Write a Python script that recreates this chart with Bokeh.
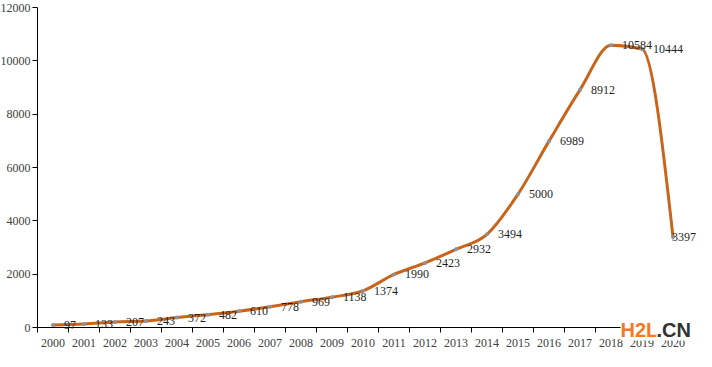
from bokeh.plotting import figure
from bokeh.models import (ColumnDataSource, FixedTicker, Range1d, LabelSet, Label)
from bokeh.embed import file_html
from bokeh.resources import INLINE

# ---- data ----
years = ["2000", "2001", "2002", "2003", "2004", "2005", "2006", "2007", "2008", "2009",
         "2010", "2011", "2012", "2013", "2014", "2015", "2016", "2017", "2018", "2019", "2020"]
values = [97, 133, 207, 243, 372, 482, 610, 778, 969, 1138,
          1374, 1990, 2423, 2932, 3494, 5000, 6989, 8912, 10584, 10444, 3397]
y_ticks = [0, 2000, 4000, 6000, 8000, 10000, 12000]
y_max = 12000

# style: per-label horizontal offsets (last label pulled in to stay inside the chart)
label_offsets = [11] * (len(values) - 1) + [-1]

xs = list(range(len(years)))

# ---- layout (pixels inside the 696x351 canvas) ----
W, H = 696, 351
AX_LEFT, AX_RIGHT = 37, 688     # x-axis line extent
AX_TOP, AX_BOTTOM = 7, 327      # y-axis line extent
x_lo, x_hi = -0.5, len(years) - 0.5
ppx = (AX_RIGHT - AX_LEFT) / (x_hi - x_lo)
ppy = (AX_BOTTOM - AX_TOP) / y_max
x_start = x_lo - AX_LEFT / ppx
x_end = x_hi + (W - AX_RIGHT) / ppx
y_end = y_max + AX_TOP / ppy
y_start = -(H - AX_BOTTOM) / ppy


# ---- monotone-x smooth curve (d3 curveMonotoneX style), as bezier segments ----
def _sign(v):
    return -1.0 if v < 0 else 1.0


def _slope3(x0, y0, x1, y1, x2, y2):
    h0, h1 = x1 - x0, x2 - x1
    s0, s1 = (y1 - y0) / h0, (y2 - y1) / h1
    pp = (s0 * h1 + s1 * h0) / (h0 + h1)
    return (_sign(s0) + _sign(s1)) * min(abs(s0), abs(s1), 0.5 * abs(pp))


n = len(xs)
tang = [0.0] * n
for i in range(1, n - 1):
    tang[i] = _slope3(xs[i - 1], values[i - 1], xs[i], values[i], xs[i + 1], values[i + 1])
tang[0] = (3 * (values[1] - values[0]) / (xs[1] - xs[0]) - tang[1]) / 2
tang[-1] = (3 * (values[-1] - values[-2]) / (xs[-1] - xs[-2]) - tang[-2]) / 2

seg = dict(x0=[], y0=[], x1=[], y1=[], cx0=[], cy0=[], cx1=[], cy1=[])
for i in range(n - 1):
    dx = xs[i + 1] - xs[i]
    seg["x0"].append(xs[i]); seg["y0"].append(values[i])
    seg["x1"].append(xs[i + 1]); seg["y1"].append(values[i + 1])
    seg["cx0"].append(xs[i] + dx / 3); seg["cy0"].append(values[i] + dx * tang[i] / 3)
    seg["cx1"].append(xs[i + 1] - dx / 3); seg["cy1"].append(values[i + 1] - dx * tang[i + 1] / 3)

p = figure(width=W, height=H, output_backend="svg", toolbar_location=None,
           x_range=Range1d(x_start, x_end), y_range=Range1d(y_start, y_end),
           min_border_left=0, min_border_right=0, min_border_top=0, min_border_bottom=0)
p.outline_line_color = None
p.xgrid.visible = False
p.ygrid.visible = False
p.background_fill_color = "white"
p.border_fill_color = "white"

FONT = "Liberation Serif"

# axes (drawn at fixed data locations so the frame can span the whole canvas)
p.xaxis.fixed_location = 0
p.xaxis.bounds = (x_lo, x_hi)
p.xaxis.ticker = FixedTicker(ticks=xs, minor_ticks=[i - 0.5 for i in range(len(years) + 1)])
p.xaxis.major_label_overrides = {i: y for i, y in enumerate(years)}
p.xaxis.major_tick_out = 0
p.xaxis.major_tick_in = 0
p.xaxis.minor_tick_out = 5
p.xaxis.minor_tick_in = 0
p.xaxis.minor_tick_line_color = "black"
p.xaxis.axis_line_color = "black"
p.xaxis.major_label_standoff = 6
p.xaxis.major_label_text_font = FONT
p.xaxis.major_label_text_font_size = "12px"
p.xaxis.major_label_text_color = "#404040"

p.yaxis.fixed_location = x_lo
p.yaxis.bounds = (0, y_max)
p.yaxis.ticker = FixedTicker(ticks=y_ticks, minor_ticks=[])
p.yaxis.major_tick_out = 5
p.yaxis.major_tick_in = 0
p.yaxis.major_tick_line_color = "black"
p.yaxis.axis_line_color = "black"
p.yaxis.major_label_standoff = 2
p.yaxis.major_label_text_font = FONT
p.yaxis.major_label_text_font_size = "12px"
p.yaxis.major_label_text_color = "#404040"

# smooth line
p.bezier(x0="x0", y0="y0", x1="x1", y1="y1", cx0="cx0", cy0="cy0", cx1="cx1", cy1="cy1",
         source=ColumnDataSource(seg), line_color="#C8651B", line_width=3, line_cap="round")

src = ColumnDataSource(dict(x=xs, y=values, txt=[str(v) for v in values], off=label_offsets))
p.scatter("x", "y", source=src, size=4, fill_color="#8C939C", line_color=None)

labels = LabelSet(x="x", y="y", text="txt", source=src, x_offset="off",
                  text_font=FONT, text_font_size="12px", text_color="#1F1F1F",
                  text_baseline="middle", text_align="left")
p.add_layout(labels)

# watermark (white box over the axis, bottom right)
p.add_layout(Label(x=x_hi, y=0, x_offset=-68, y_offset=-2, text="H2L", text_font="Liberation Sans",
                   text_font_style="bold", text_font_size="20px", text_color="#F47920",
                   text_baseline="middle", text_align="left",
                   background_fill_color="white", padding=0))
p.add_layout(Label(x=x_hi, y=0, x_offset=-32, y_offset=-2, text=".CN", text_font="Liberation Sans",
                   text_font_style="bold", text_font_size="20px", text_color="#333333",
                   text_baseline="middle", text_align="left",
                   background_fill_color="white", padding=0))

open("out.html", "w").write(file_html(p, INLINE))
